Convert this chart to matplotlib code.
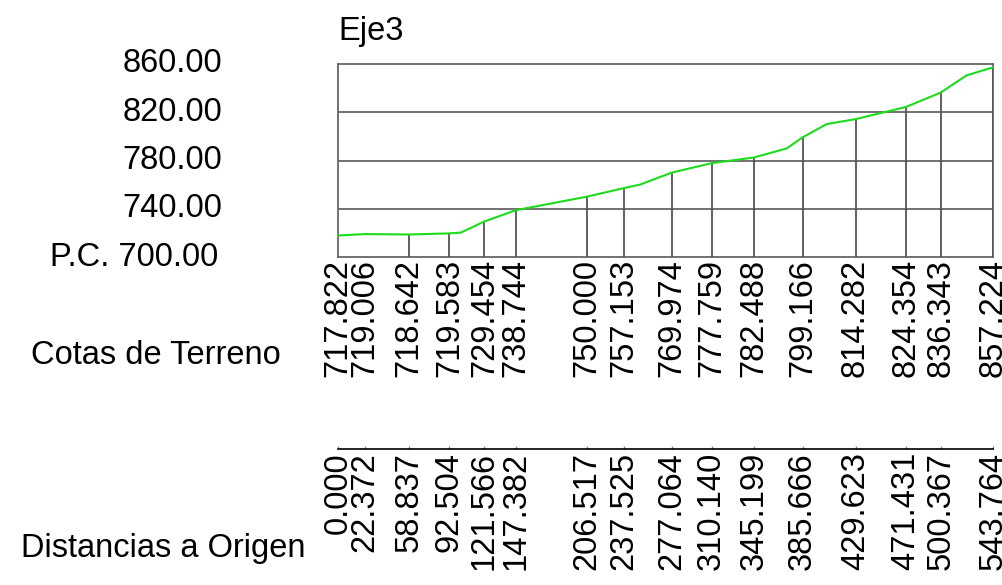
import matplotlib
matplotlib.use("Agg")
import matplotlib.pyplot as plt
import matplotlib.transforms as mtransforms

# ---- data ----
title = "Eje3"
station_dist = [0.000, 22.372, 58.837, 92.504, 121.566, 147.382, 206.517, 237.525,
                277.064, 310.140, 345.199, 385.666, 429.623, 471.431, 500.367, 543.764]
station_elev = [717.822, 719.006, 718.642, 719.583, 729.454, 738.744, 750.000, 757.153,
                769.974, 777.759, 782.488, 799.166, 814.282, 824.354, 836.343, 857.224]
# intermediate terrain vertices (not labelled)
extra_dist = [101.9, 250.7, 372.5, 405.7, 521.9]
extra_elev = [720.2, 760.0, 790.0, 810.2, 850.6]
y_levels = [700, 740, 780, 820, 860]
y_level_labels = ["P.C. 700.00", "740.00", "780.00", "820.00", "860.00"]
row_elev_title = "Cotas de Terreno"
row_dist_title = "Distancias a Origen"
unmarked_stations = [1]  # station without vertical line

# ---- layout ----
W, H = 1002, 585
plt.rcParams['font.family'] = ['Liberation Sans', 'DejaVu Sans']
FS = 23.5
fig = plt.figure(figsize=(W / 100, H / 100), dpi=100)
fig.patch.set_facecolor("white")

left, right, top, bottom = 338, 993, 64, 257
ax = fig.add_axes([left / W, 1 - bottom / H, (right - left) / W, (bottom - top) / H])
ax.set_xlim(0, station_dist[-1])
ax.set_ylim(y_levels[0], y_levels[-1])
grid_c = "#666666"
for s in ax.spines.values():
    s.set_color(grid_c)
    s.set_linewidth(1.3)
ax.set_xticks([])
ax.set_yticks(y_levels[1:-1])
ax.set_yticklabels([])
ax.tick_params(length=0)
ax.yaxis.grid(True, color=grid_c, linewidth=1.3)
ax.set_axisbelow(True)

# terrain profile
pts = sorted(zip(station_dist + extra_dist, station_elev + extra_elev))
ax.plot([p[0] for p in pts], [p[1] for p in pts], color="#1cdc1c", linewidth=1.5,
        zorder=4, clip_on=False)

# station verticals
vx = [d for i, d in enumerate(station_dist) if i not in unmarked_stations and i != 0]
vy = [e for i, e in enumerate(station_elev) if i not in unmarked_stations and i != 0]
ax.vlines(vx, y_levels[0], vy, color="#555555", linewidth=1.3, zorder=3)

# left level labels
tr_left = mtransforms.blended_transform_factory(fig.transFigure, ax.transData)
for lv, lab in zip(y_levels, y_level_labels):
    xr = 218 if lab.startswith("P.C.") else 222.5
    fig.text(xr / W, lv, lab, transform=tr_left, ha="right", va="center",
             fontsize=FS, color="black")

# title
fig.text(left / W, 1 - 40 / H, title, ha="left", va="baseline", fontsize=FS)

# elevation labels
tr_x = mtransforms.blended_transform_factory(ax.transData, fig.transFigure)
for d, e in zip(station_dist, station_elev):
    fig.text(d, 1 - 259 / H, f"{e:.3f}", transform=tr_x, rotation=90,
             ha="center", va="top", fontsize=FS)

# distances row: baseline line + small ticks
yline = 1 - 449 / H
fig.add_artist(plt.Line2D([0, station_dist[-1]], [yline, yline], transform=tr_x,
                          color="black", linewidth=1.2))
ax.vlines(station_dist, yline, yline + 3 / H, transform=tr_x, color="#888888",
          linewidth=1.0, clip_on=False)
for d in station_dist:
    fig.text(d, 1 - 452 / H, f"{d:.3f}", transform=tr_x, rotation=90,
             ha="center", va="top", fontsize=FS)

# row titles
fig.text(31 / W, 1 - 356 / H, row_elev_title, ha="left", va="center", fontsize=FS)
fig.text(21 / W, 1 - 548 / H, row_dist_title, ha="left", va="center", fontsize=FS)

fig.savefig("out.png", dpi=100, facecolor="white")
